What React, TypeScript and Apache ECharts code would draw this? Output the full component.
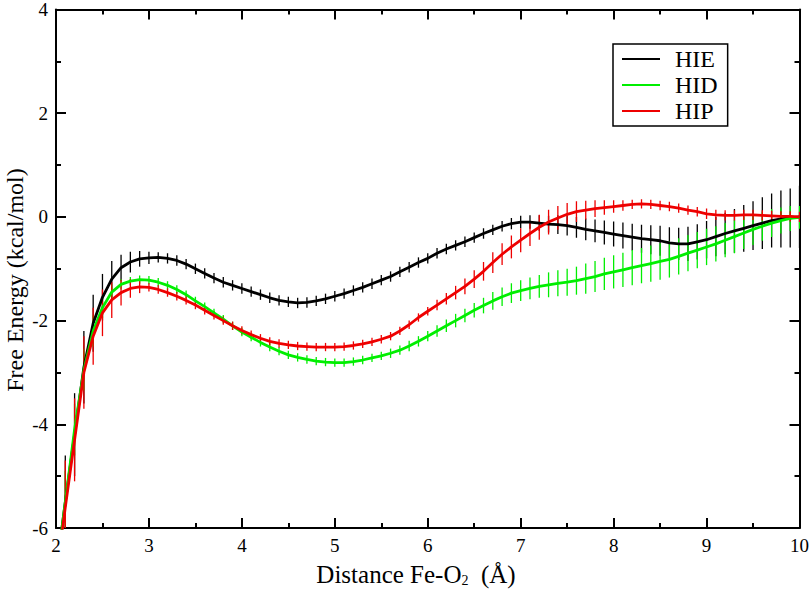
import React, { useEffect, useRef } from "react";
import * as echarts from "echarts";

const distance = [
  2.0, 2.1, 2.2, 2.3, 2.4, 2.5, 2.6, 2.7, 2.8, 2.9,
  3.0, 3.1, 3.2, 3.3, 3.4, 3.5, 3.6, 3.7, 3.8, 3.9,
  4.0, 4.1, 4.2, 4.3, 4.4, 4.5, 4.6, 4.7, 4.8, 4.9,
  5.0, 5.1, 5.2, 5.3, 5.4, 5.5, 5.6, 5.7, 5.8, 5.9,
  6.0, 6.1, 6.2, 6.3, 6.4, 6.5, 6.6, 6.7, 6.8, 6.9,
  7.0, 7.1, 7.2, 7.3, 7.4, 7.5, 7.6, 7.7, 7.8, 7.9,
  8.0, 8.1, 8.2, 8.3, 8.4, 8.5, 8.6, 8.7, 8.8, 8.9,
  9.0, 9.1, 9.2, 9.3, 9.4, 9.5, 9.6, 9.7, 9.8, 9.9,
  10.0,
];

const hie = [
  -6.9, -5.5, -4.2, -2.9, -2.05, -1.55, -1.2, -0.98, -0.87, -0.81,
  -0.79, -0.78, -0.8, -0.84, -0.91, -1.0, -1.09, -1.18, -1.26, -1.32,
  -1.38, -1.44, -1.5, -1.56, -1.61, -1.64, -1.66, -1.65, -1.62, -1.58,
  -1.53, -1.48, -1.42, -1.36, -1.29, -1.22, -1.15, -1.06, -0.97, -0.88,
  -0.8, -0.7, -0.62, -0.55, -0.48, -0.4, -0.32, -0.25, -0.18, -0.13,
  -0.1, -0.1, -0.12, -0.14, -0.15, -0.17, -0.2, -0.24, -0.27, -0.3,
  -0.33, -0.36, -0.39, -0.42, -0.44, -0.46, -0.5, -0.52, -0.52, -0.48,
  -0.44, -0.38, -0.32, -0.27, -0.22, -0.17, -0.12, -0.07, -0.04, -0.02,
  0.0,
];
const hieErr = [
  0.9, 0.9, 0.8, 0.7, 0.55, 0.45, 0.35, 0.25, 0.2, 0.15,
  0.12, 0.1, 0.1, 0.1, 0.1, 0.1, 0.1, 0.1, 0.1, 0.1,
  0.1, 0.1, 0.1, 0.1, 0.1, 0.1, 0.1, 0.1, 0.1, 0.1,
  0.1, 0.1, 0.1, 0.1, 0.1, 0.1, 0.1, 0.1, 0.1, 0.1,
  0.1, 0.1, 0.1, 0.1, 0.1, 0.1, 0.1, 0.1, 0.1, 0.11,
  0.12, 0.13, 0.15, 0.16, 0.18, 0.19, 0.2, 0.21, 0.22, 0.23,
  0.24, 0.25, 0.26, 0.27, 0.28, 0.29, 0.3, 0.31, 0.33, 0.34,
  0.36, 0.38, 0.4, 0.42, 0.45, 0.47, 0.5, 0.52, 0.55, 0.57,
  0.6,
];

const hid = [
  -6.9, -5.5, -4.1, -2.95, -2.2, -1.75, -1.45, -1.3, -1.24, -1.21,
  -1.22, -1.26, -1.32, -1.4, -1.5, -1.62, -1.73, -1.85, -1.97, -2.1,
  -2.22, -2.32, -2.42, -2.51, -2.59, -2.66, -2.71, -2.75, -2.78, -2.8,
  -2.81, -2.81, -2.79, -2.76, -2.72, -2.68, -2.63, -2.57, -2.49, -2.4,
  -2.3, -2.2, -2.1, -2.0, -1.9, -1.8, -1.71, -1.62, -1.54, -1.47,
  -1.42, -1.38, -1.34, -1.31, -1.28, -1.26, -1.23, -1.19, -1.15, -1.1,
  -1.06, -1.02, -0.98, -0.94, -0.9, -0.86, -0.82, -0.76, -0.7, -0.64,
  -0.58, -0.52, -0.45, -0.38, -0.31, -0.24, -0.18, -0.12, -0.07, -0.03,
  -0.01,
];
const hidErr = [
  0.6, 0.6, 0.5, 0.4, 0.3, 0.2, 0.15, 0.1, 0.08, 0.08,
  0.08, 0.08, 0.08, 0.08, 0.08, 0.08, 0.08, 0.08, 0.08, 0.08,
  0.08, 0.08, 0.08, 0.08, 0.08, 0.08, 0.08, 0.08, 0.08, 0.08,
  0.08, 0.08, 0.08, 0.08, 0.08, 0.08, 0.09, 0.09, 0.1, 0.1,
  0.1, 0.11, 0.12, 0.13, 0.13, 0.14, 0.15, 0.17, 0.18, 0.19,
  0.2, 0.21, 0.22, 0.24, 0.25, 0.26, 0.27, 0.29, 0.3, 0.31,
  0.32, 0.33, 0.34, 0.34, 0.35, 0.35, 0.35, 0.35, 0.35, 0.35,
  0.35, 0.34, 0.33, 0.32, 0.31, 0.3, 0.28, 0.27, 0.25, 0.24,
  0.22,
];

const hip = [
  -7.0, -5.6, -4.3, -3.0, -2.3, -1.85, -1.6, -1.46, -1.38, -1.35,
  -1.36, -1.4, -1.46, -1.53, -1.61, -1.7, -1.8, -1.9, -2.0, -2.1,
  -2.19, -2.27, -2.34, -2.4, -2.44, -2.47, -2.49, -2.5, -2.51, -2.51,
  -2.51, -2.5, -2.48, -2.45, -2.41, -2.36, -2.3, -2.2, -2.08, -1.94,
  -1.82, -1.7, -1.58, -1.46, -1.34, -1.2, -1.05, -0.88, -0.72, -0.58,
  -0.45, -0.32, -0.2, -0.1, -0.02, 0.05, 0.1, 0.13, 0.16, 0.18,
  0.2, 0.22, 0.24, 0.25, 0.24, 0.22, 0.2, 0.17, 0.13, 0.1,
  0.06, 0.04, 0.03, 0.03, 0.04, 0.04, 0.03, 0.02, 0.01, 0.01,
  0.0,
];
const hipErr = [
  0.9, 0.9, 0.8, 0.7, 0.55, 0.45, 0.35, 0.25, 0.18, 0.12,
  0.08, 0.08, 0.08, 0.08, 0.08, 0.08, 0.08, 0.08, 0.08, 0.08,
  0.08, 0.08, 0.08, 0.08, 0.08, 0.08, 0.08, 0.08, 0.08, 0.08,
  0.08, 0.08, 0.08, 0.08, 0.08, 0.08, 0.08, 0.08, 0.08, 0.08,
  0.08, 0.1, 0.11, 0.13, 0.15, 0.17, 0.18, 0.2, 0.21, 0.22,
  0.23, 0.24, 0.24, 0.24, 0.23, 0.22, 0.2, 0.18, 0.16, 0.14,
  0.12, 0.1, 0.09, 0.09, 0.09, 0.09, 0.09, 0.09, 0.09, 0.09,
  0.1, 0.1, 0.1, 0.1, 0.1, 0.1, 0.1, 0.1, 0.1, 0.1,
  0.1,
];

const seriesNames = ["HIE", "HID", "HIP"];
const seriesColors = ["#000000", "#00ee00", "#ee0000"];
const xTicks = { min: 2, max: 10, interval: 1 };
const yTicks = { min: -6, max: 4, interval: 2 };

const FONT = "Liberation Serif, Times New Roman, serif";

function App() {
  const ref = useRef<HTMLDivElement>(null);

  useEffect(() => {
    if (!ref.current) return;
    const chart = echarts.init(ref.current, null, { renderer: "svg" });
    const values = [hie, hid, hip];
    const errs = [hieErr, hidErr, hipErr];

    const series: any[] = [];
    seriesNames.forEach((name, k) => {
      const color = seriesColors[k];
      series.push({
        name: name + " error",
        type: "custom",
        clip: true,
        data: distance.map((x, i) => [x, values[k][i], errs[k][i]]),
        encode: { x: 0, y: 1 },
        renderItem: (_p: any, api: any) => {
          const x = api.value(0);
          const y = api.value(1);
          const e = api.value(2);
          const a = api.coord([x, y + e]);
          const b = api.coord([x, y - e]);
          return {
            type: "line",
            shape: { x1: a[0], y1: a[1], x2: b[0], y2: b[1] },
            style: { stroke: color, lineWidth: 1.3 },
          };
        },
        silent: true,
      });
      series.push({
        name,
        type: "line",
        data: distance.map((x, i) => [x, values[k][i]]),
        showSymbol: false,
        symbol: "none",
        clip: true,
        lineStyle: { color, width: 2.8 },
        itemStyle: { color },
      });
    });

    const axisCommon = {
      axisLine: { show: true, onZero: false, lineStyle: { color: "#000", width: 2 } },
      axisTick: { show: true, inside: true, length: 10, lineStyle: { color: "#000", width: 2 } },
      minorTick: { show: true, splitNumber: 2, length: 5, lineStyle: { color: "#000", width: 2 } },
      splitLine: { show: false },
      minorSplitLine: { show: false },
    };

    chart.setOption({
      animation: false,
      backgroundColor: "#ffffff",
      grid: { left: 56, right: 12, top: 7, bottom: 63 },
      xAxis: [
        {
          type: "value",
          ...xTicks,
          position: "bottom",
          ...axisCommon,
          axisLabel: { color: "#000", fontFamily: FONT, fontSize: 19, margin: 8 },
        },
        {
          type: "value",
          ...xTicks,
          position: "top",
          ...axisCommon,
          axisLabel: { show: false },
        },
      ],
      yAxis: [
        {
          type: "value",
          ...yTicks,
          position: "left",
          ...axisCommon,
          axisLabel: { color: "#000", fontFamily: FONT, fontSize: 19, margin: 8 },
        },
        {
          type: "value",
          ...yTicks,
          position: "right",
          ...axisCommon,
          axisLabel: { show: false },
        },
      ],
      legend: {
        data: seriesNames.map((n) => ({ name: n, icon: "rect" })),
        orient: "vertical",
        left: 613,
        top: 44,
        itemWidth: 38,
        itemHeight: 2,
        itemGap: 2,
        padding: [3, 10, 3, 9],
        borderColor: "#000",
        borderWidth: 1.5,
        borderRadius: 0,
        selectedMode: false,
        textStyle: {
          color: "#000",
          fontFamily: FONT,
          fontSize: 24,
          lineHeight: 21,
          padding: [0, 0, 0, 10],
        },
      },
      graphic: [
        {
          type: "text",
          x: 416,
          y: 574,
          style: {
            text: "Distance Fe-O{sub|2}  (Å)",
            fontFamily: FONT,
            fontSize: 25,
            fill: "#000",
            align: "center",
            verticalAlign: "middle",
            rich: {
              sub: { fontFamily: FONT, fontSize: 14, fill: "#000", verticalAlign: "bottom", padding: [12, 0, 0, 0] },
            },
          },
        },
        {
          type: "text",
          x: 15,
          y: 280,
          rotation: Math.PI / 2,
          style: {
            text: "Free Energy (kcal/mol)",
            fontFamily: FONT,
            fontSize: 24,
            fill: "#000",
            align: "center",
            verticalAlign: "middle",
          },
        },
      ],
      series,
    });

    return () => chart.dispose();
  }, []);

  return (
    <div
      ref={ref}
      style={{ position: "absolute", left: 0, top: 0, width: 812, height: 591 }}
    />
  );
}

export default App;
